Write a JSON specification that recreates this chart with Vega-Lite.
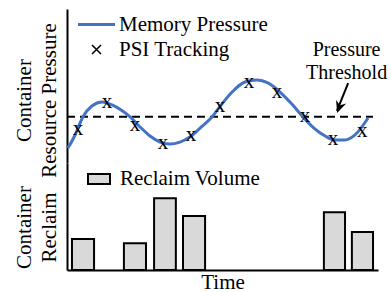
{
  "$schema": "https://vega.github.io/schema/vega-lite/v6.json",
  "padding": {"left": 13, "top": 9, "right": 0, "bottom": 0},
  "spacing": 0,
  "bounds": "flush",
  "config": {
    "font": "Liberation Serif",
    "view": {"stroke": null},
    "axis": {"domainColor": "black", "domainWidth": 2, "ticks": false, "labels": false, "grid": false, "titleFont": "Liberation Serif", "titleFontSize": 21, "titleFontWeight": "normal", "titleColor": "black", "titleLineHeight": 25},
    "legend": {"labelFont": "Liberation Serif", "labelFontSize": 21, "labelColor": "black", "padding": 0, "labelLimit": 300}
  },
  "datasets": {
    "pressure": [
      {"time": 0.3, "value": 9.7}, {"time": 2.6, "value": 18.2}, {"time": 5.1, "value": 29.9}, {"time": 8.0, "value": 37.0},
      {"time": 11.3, "value": 39.6}, {"time": 14.5, "value": 37.7}, {"time": 17.4, "value": 34.4}, {"time": 20.3, "value": 29.9},
      {"time": 23.5, "value": 23.4}, {"time": 26.7, "value": 17.5}, {"time": 29.9, "value": 13.6}, {"time": 33.1, "value": 12.3},
      {"time": 36.3, "value": 13.6}, {"time": 39.5, "value": 16.9}, {"time": 42.8, "value": 22.7}, {"time": 46.6, "value": 29.9},
      {"time": 49.8, "value": 38.3}, {"time": 53.1, "value": 46.1}, {"time": 57.2, "value": 52.6}, {"time": 61.1, "value": 53.9},
      {"time": 64.6, "value": 52.0}, {"time": 68.5, "value": 46.1}, {"time": 72.3, "value": 38.3}, {"time": 75.9, "value": 29.9},
      {"time": 79.4, "value": 22.7}, {"time": 83.0, "value": 17.5}, {"time": 86.2, "value": 14.9}, {"time": 89.4, "value": 14.9},
      {"time": 92.6, "value": 18.2}, {"time": 96.8, "value": 29.2}
    ],
    "psi": [
      {"time": 3.5, "value": 22.4}, {"time": 12.9, "value": 39.3}, {"time": 21.9, "value": 24.4}, {"time": 30.9, "value": 13.3},
      {"time": 39.9, "value": 17.9}, {"time": 49.2, "value": 36.7}, {"time": 58.5, "value": 52.9}, {"time": 67.5, "value": 46.4},
      {"time": 76.5, "value": 30.2}, {"time": 85.5, "value": 15.9}, {"time": 94.9, "value": 20.5}
    ],
    "threshold": [{"time": 0, "time2": 98.4, "value": 30}],
    "annotation": [{"time": 89.9, "value": 69.5, "label": "Pressure\nThreshold"}],
    "arrow": [{"time": 90.4, "value": 51.9, "time2": 86.8, "value2": 33.8}],
    "arrowhead": [{"time": 87.5, "value": 36.1}],
    "reclaim": [
      {"time": 1.6, "time2": 8.7, "value": 29},
      {"time": 18.3, "time2": 25.4, "value": 25},
      {"time": 28.0, "time2": 35.0, "value": 67},
      {"time": 37.3, "time2": 44.4, "value": 50.5},
      {"time": 82.6, "time2": 89.4, "value": 54},
      {"time": 91.6, "time2": 98.4, "value": 35.5}
    ]
  },
  "resolve": {"scale": {"color": "independent", "x": "independent", "y": "independent"}, "legend": {"color": "independent"}},
  "vconcat": [
    {
      "width": 311,
      "height": 154,
      "encoding": {
        "x": {"field": "time", "type": "quantitative", "scale": {"domain": [0, 100], "nice": false}, "axis": null},
        "y": {"field": "value", "type": "quantitative", "scale": {"domain": [0, 100], "nice": false}, "axis": {"title": ["Container", "Resource Pressure"], "titleY": 91, "titlePadding": 8}}
      },
      "layer": [
        {
          "data": {"name": "threshold"},
          "mark": {"type": "rule", "color": "black", "strokeWidth": 2, "strokeDash": [8, 5]},
          "encoding": {"x2": {"field": "time2"}}
        },
        {
          "data": {"name": "pressure"},
          "mark": {"type": "line", "strokeWidth": 3, "interpolate": "monotone"},
          "encoding": {
            "color": {
              "datum": "Memory Pressure",
              "type": "nominal",
              "scale": {"domain": ["Memory Pressure", "PSI Tracking"], "range": ["#4472C4", "black"]},
              "legend": {
                "orient": "none", "legendX": 19, "legendY": 5, "title": null,
                "labelFont": "Liberation Serif", "labelFontSize": 21, "labelColor": "black",
                "symbolType": "stroke", "symbolSize": 81, "symbolStrokeWidth": 3,
                "labelOffset": 12, "rowPadding": 3,
                "encode": {"symbols": {"update": {
                  "shape": {"signal": "datum.value === 'PSI Tracking' ? 'M-1,-1L1,1M1,-1L-1,1' : 'stroke'"},
                  "size": {"signal": "datum.value === 'PSI Tracking' ? 81 : 1369"},
                  "stroke": {"signal": "datum.value === 'PSI Tracking' ? 'black' : '#4472C4'"},
                  "strokeWidth": {"signal": "datum.value === 'PSI Tracking' ? 1.5 : 3"},
                  "fill": {"value": "transparent"},
                  "opacity": {"value": 1}
                }}}
              }
            }
          }
        },
        {
          "data": {"name": "psi"},
          "mark": {"type": "text", "text": "x", "fontSize": 21, "font": "Liberation Serif", "baseline": "middle", "align": "center"},
          "encoding": {"color": {"datum": "PSI Tracking", "type": "nominal"}}
        },
        {
          "data": {"name": "annotation"},
          "mark": {"type": "text", "fontSize": 20, "font": "Liberation Serif", "align": "center", "baseline": "alphabetic", "lineBreak": "\n", "lineHeight": 23, "color": "black"},
          "encoding": {"text": {"field": "label", "type": "nominal"}}
        },
        {
          "data": {"name": "arrow"},
          "mark": {"type": "rule", "color": "black", "strokeWidth": 2},
          "encoding": {"x2": {"field": "time2"}, "y2": {"field": "value2"}}
        },
        {
          "data": {"name": "arrowhead"},
          "mark": {"type": "point", "shape": "M0,1L-0.9,-1L0,-0.4L0.9,-1Z", "filled": true, "color": "black", "size": 144, "angle": 20, "opacity": 1}
        }
      ]
    },
    {
      "width": 311,
      "height": 107,
      "data": {"name": "reclaim"},
      "mark": {"type": "bar", "stroke": "black", "strokeWidth": 2},
      "encoding": {
        "x": {"field": "time", "type": "quantitative", "scale": {"domain": [0, 100], "nice": false}, "axis": {"title": "Time", "titlePadding": 1}},
        "x2": {"field": "time2"},
        "y": {"field": "value", "type": "quantitative", "scale": {"domain": [0, 100], "nice": false}, "axis": {"title": ["Container", "Reclaim"], "titleY": 64, "titlePadding": 8}},
        "y2": {"datum": 0},
        "color": {
          "datum": "Reclaim Volume",
          "type": "nominal",
          "scale": {"range": ["#d9d9d9"]},
          "legend": {
            "orient": "none", "legendX": 20, "legendY": 4, "title": null,
            "labelFont": "Liberation Serif", "labelFontSize": 21, "labelColor": "black",
            "symbolType": "M-1,-0.45H1V0.45H-1Z", "symbolSize": 484,
            "symbolStrokeColor": "black", "symbolStrokeWidth": 2, "symbolOpacity": 1,
            "labelOffset": 9
          }
        }
      }
    }
  ]
}
